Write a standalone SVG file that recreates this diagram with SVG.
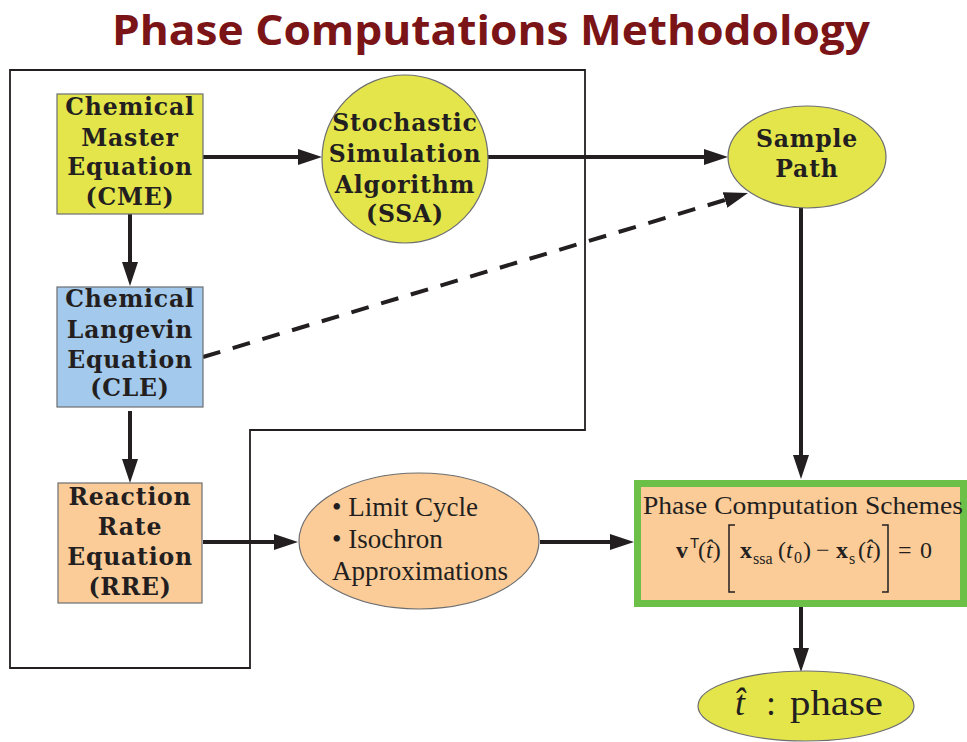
<svg xmlns="http://www.w3.org/2000/svg" width="967" height="742" viewBox="0 0 967 742">
<style>
.bt{font-family:"DejaVu Serif","Liberation Serif",serif;font-weight:bold;font-size:23.5px;letter-spacing:0.8px;fill:#231f20;text-anchor:middle}
.rt{font-family:"Liberation Serif","DejaVu Serif",serif;fill:#231f20}
.conn{stroke:#231f20;stroke-width:4;fill:none}
.box{stroke:#6d6e70;stroke-width:1.2}
</style>
<defs>
<marker id="ah" markerWidth="24" markerHeight="16" refX="0" refY="8" orient="auto" markerUnits="userSpaceOnUse">
<path d="M0,0 L24,8 L0,16 z" fill="#231f20"/>
</marker>
</defs>
<rect width="967" height="742" fill="#ffffff"/>
<text x="491" y="45" text-anchor="middle" textLength="758" lengthAdjust="spacingAndGlyphs" font-family="'Comic Sans MS','Open Sans',sans-serif" font-weight="bold" font-size="41" fill="#7b1416">Phase Computations Methodology</text>

<g id="frame">
<path d="M10,70 H585 V430 H250 V668 H10 Z" fill="none" stroke="#231f20" stroke-width="1.8"/>
</g>

<g id="connectors">
<line class="conn" x1="203" y1="157" x2="298" y2="157" marker-end="url(#ah)"/>
<line class="conn" x1="487" y1="157" x2="704" y2="157" marker-end="url(#ah)"/>
<line class="conn" x1="130" y1="214" x2="130" y2="262" marker-end="url(#ah)"/>
<line class="conn" x1="130" y1="411" x2="130" y2="459" marker-end="url(#ah)"/>
<line class="conn" x1="203" y1="542" x2="274" y2="542" marker-end="url(#ah)"/>
<line class="conn" x1="540" y1="542" x2="610" y2="542" marker-end="url(#ah)"/>
<line class="conn" x1="801" y1="208" x2="801" y2="455" marker-end="url(#ah)"/>
<line class="conn" x1="801" y1="607" x2="801" y2="648" marker-end="url(#ah)"/>
<line class="conn" x1="203" y1="357" x2="725" y2="200" stroke-dasharray="18,13" marker-end="url(#ah)"/>
</g>

<g id="cme">
<rect class="box" x="57" y="94" width="146" height="120" fill="#e4e54b"/>
<text class="bt" x="130" y="115">Chemical</text>
<text class="bt" x="130" y="146">Master</text>
<text class="bt" x="130" y="175">Equation</text>
<text class="bt" x="130" y="205">(CME)</text>
</g>

<g id="ssa">
<ellipse class="box" cx="405" cy="159" rx="83" ry="84" fill="#e4e54b"/>
<text class="bt" x="405" y="131">Stochastic</text>
<text class="bt" x="405" y="162">Simulation</text>
<text class="bt" x="405" y="193">Algorithm</text>
<text class="bt" x="405" y="222">(SSA)</text>
</g>

<g id="sample">
<ellipse class="box" cx="807" cy="157" rx="79" ry="51" fill="#e4e54b"/>
<text class="bt" x="807" y="147">Sample</text>
<text class="bt" x="807" y="177">Path</text>
</g>

<g id="cle">
<rect class="box" x="57" y="287" width="146" height="120" fill="#a3c9ec"/>
<text class="bt" x="130" y="307">Chemical</text>
<text class="bt" x="130" y="338">Langevin</text>
<text class="bt" x="130" y="368">Equation</text>
<text class="bt" x="130" y="396">(CLE)</text>
</g>

<g id="rre">
<rect class="box" x="58" y="483" width="144" height="120" fill="#fbcb98"/>
<text class="bt" x="130" y="505">Reaction</text>
<text class="bt" x="130" y="535">Rate</text>
<text class="bt" x="130" y="565">Equation</text>
<text class="bt" x="130" y="595">(RRE)</text>
</g>

<g id="limit">
<ellipse class="box" cx="419" cy="541" rx="120" ry="68" fill="#fbcb98"/>
<text class="rt" x="332" y="516" font-size="27">• Limit Cycle</text>
<text class="rt" x="332" y="548" font-size="27">• Isochron</text>
<text class="rt" x="332" y="580" font-size="27" textLength="176" lengthAdjust="spacingAndGlyphs">Approximations</text>
</g>

<g id="pcs">
<rect x="637.5" y="483.5" width="326" height="120" fill="#fbcb98" stroke="#6cbf47" stroke-width="7"/>
<text class="rt" x="643" y="514" font-size="25" textLength="320" lengthAdjust="spacingAndGlyphs">Phase Computation Schemes</text>
<g class="rt" font-size="24">
<text x="676" y="558" font-weight="bold">v</text>
<text x="690" y="548" font-family="'Liberation Sans',sans-serif" font-size="15">T</text>
<text x="698" y="558">(<tspan font-style="italic">t̂</tspan>)</text>
<path d="M735,525 H729 V592 H735" fill="none" stroke="#231f20" stroke-width="1.5"/>
<text x="740" y="558" font-weight="bold">x</text>
<text x="753" y="564" font-size="16">ssa</text>
<text x="778" y="558">(<tspan font-style="italic">t</tspan></text>
<text x="794" y="563" font-size="16">0</text>
<text x="803" y="558">)</text>
<text x="816" y="558">−</text>
<text x="836" y="558" font-weight="bold">x</text>
<text x="849" y="564" font-size="16">s</text>
<text x="858" y="558">(<tspan font-style="italic">t̂</tspan>)</text>
<path d="M882,525 H888 V592 H882" fill="none" stroke="#231f20" stroke-width="1.5"/>
<text x="898" y="558">=</text>
<text x="920" y="558">0</text>
</g>
</g>

<g id="phase">
<ellipse class="box" cx="806" cy="706" rx="108" ry="35" fill="#e4e54b"/>
<text class="rt" x="735" y="715" font-size="36"><tspan font-style="italic">t̂</tspan><tspan x="766">:</tspan></text>
<text class="rt" x="790" y="715" font-size="36" textLength="93" lengthAdjust="spacingAndGlyphs">phase</text>
</g>
</svg>
